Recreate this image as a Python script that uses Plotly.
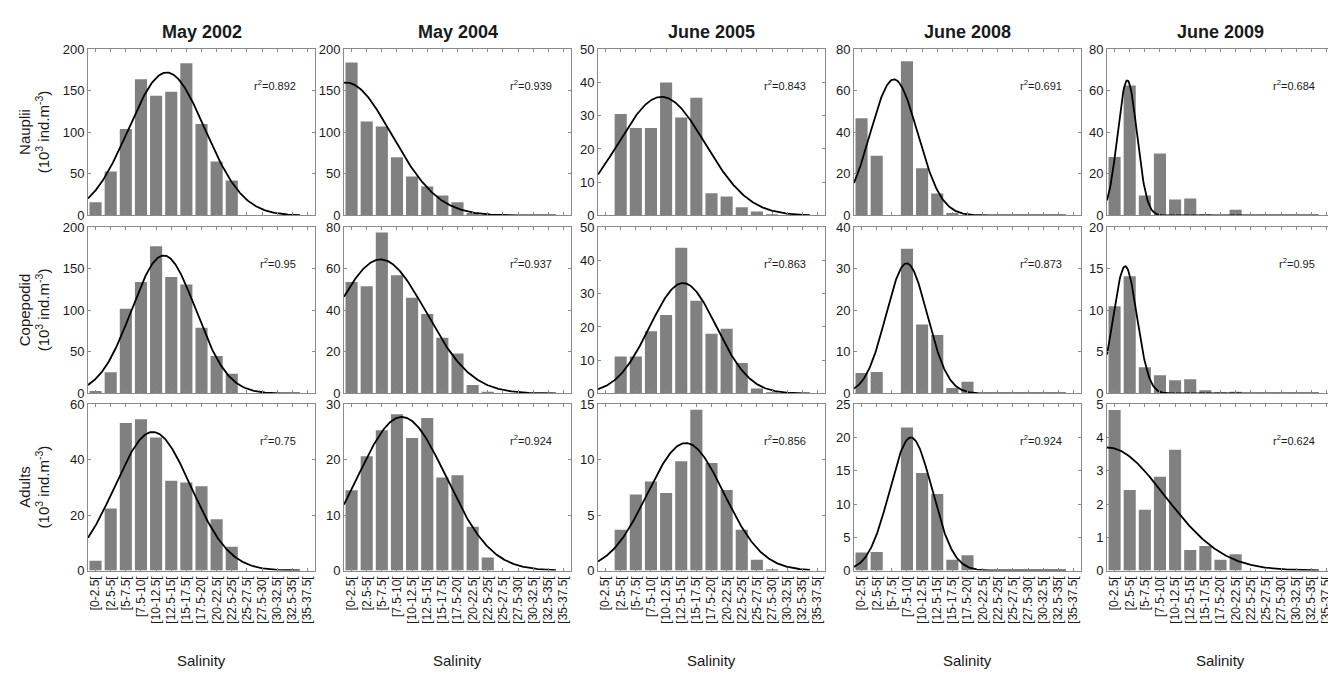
import numpy as np
import plotly.graph_objects as go

# ---------------- data ----------------
categories = ["[0-2.5[", "[2.5-5[", "[5-7.5[", "[7.5-10[", "[10-12.5[", "[12.5-15[",
              "[15-17.5[", "[17.5-20[", "[20-22.5[", "[22.5-25[", "[25-27.5[",
              "[27.5-30[", "[30-32.5[", "[32.5-35[", "[35-37.5["]
surveys = ["May 2002", "May 2004", "June 2005", "June 2008", "June 2009"]
stages = ["Nauplii", "Copepodid", "Adults"]

nauplii = [
    [16, 53, 104, 164, 144, 149, 183, 110, 65, 42, 0, 0, 0, 0, 0],
    [184, 113, 107, 70, 47, 35, 24, 16, 3, 0, 0, 0, 0, 0, 0],
    [0, 30.5, 26.3, 26.3, 40, 29.5, 35.4, 6.7, 5.7, 2.5, 1.2, 0.2, 0, 0, 0],
    [46.8, 28.7, 0, 74.2, 22.7, 10.6, 1.2, 0, 0, 0, 0, 0, 0, 0, 0],
    [28.2, 62.5, 9.6, 29.8, 7.7, 8.2, 0.3, 0, 2.8, 0, 0, 0, 0, 0, 0],
]
copepodid = [
    [3, 25.6, 102, 134, 177, 140, 131, 79, 45, 23.6, 0, 0, 0, 0, 0],
    [53.7, 51.6, 77.5, 56.9, 46.1, 38.3, 26.8, 19.2, 4.1, 0.8, 0, 0, 0, 0, 0],
    [0, 11.1, 11.1, 18.7, 23.6, 43.8, 27.9, 18.0, 19.5, 9.2, 1.5, 0.2, 0, 0, 0],
    [4.9, 5.2, 0, 34.8, 16.6, 14.1, 1.3, 2.8, 0, 0, 0, 0, 0, 0, 0],
    [10.5, 14.1, 3.15, 2.2, 1.6, 1.7, 0.4, 0.1, 0.2, 0, 0, 0, 0, 0, 0],
]
adults = [
    [3.5, 22.4, 53.2, 54.6, 48, 32.4, 31.8, 30.4, 18.5, 8.6, 0, 0, 0, 0, 0],
    [14.5, 20.6, 25.3, 28.2, 23.9, 27.5, 16.8, 17.2, 7.9, 2.35, 0, 0, 0, 0, 0],
    [0, 3.68, 6.85, 8.03, 7.0, 9.85, 14.5, 9.7, 7.26, 3.68, 0.97, 0.1, 0, 0, 0],
    [2.7, 2.8, 0, 21.5, 14.65, 11.5, 1.6, 2.3, 0, 0, 0, 0, 0, 0, 0],
    [4.83, 2.42, 1.83, 2.82, 3.63, 0.62, 0.74, 0.32, 0.49, 0, 0, 0, 0, 0, 0],
]

# Gaussian fit parameters (amplitude, mean salinity, sd)
nauplii_fit = [(172, 13.0, 6.3), (160, 0.3, 7.6), (35.7, 10.5, 7.2), (65.5, 6.6, 3.9), (65, 3.35, 1.6)]
copepodid_fit = [(166, 12.5, 5.3), (64.5, 6.05, 7.5), (33.2, 14.05, 5.5), (31.3, 8.7, 3.4), (15.3, 3.0, 1.95)]
adults_fit = [(50, 10.7, 6.3), (27.7, 9.55, 7.35), (11.5, 14.5, 6.3), (20, 9.4, 3.5), (3.7, 0.0, 9.56)]

nauplii_r2 = ["0.892", "0.939", "0.843", "0.691", "0.684"]
copepodid_r2 = ["0.95", "0.937", "0.863", "0.873", "0.95"]
adults_r2 = ["0.75", "0.924", "0.856", "0.924", "0.624"]

nauplii_ymax = [200, 200, 50, 80, 80]
nauplii_dtick = [50, 50, 10, 20, 20]
copepodid_ymax = [200, 80, 50, 40, 20]
copepodid_dtick = [50, 20, 10, 10, 5]
adults_ymax = [60, 30, 15, 25, 5]
adults_dtick = [20, 10, 5, 5, 1]

values = [nauplii, copepodid, adults]
fits = [nauplii_fit, copepodid_fit, adults_fit]
r2s = [nauplii_r2, copepodid_r2, adults_r2]
ymaxs = [nauplii_ymax, copepodid_ymax, adults_ymax]
dticks = [nauplii_dtick, copepodid_dtick, adults_dtick]

# ---------------- layout geometry (pixels) ----------------
W, H = 1336, 682
col_left = [80, 336, 590, 846, 1099]
col_w = 227
row_top = [35, 217, 398]
row_h = 170

FONT = "Liberation Sans, Arial, Helvetica, sans-serif"
AXC = "#8a8a8a"

fig = go.Figure()
layout = dict(
    width=W, height=H, margin=dict(l=0, r=0, t=0, b=0),
    paper_bgcolor="white", plot_bgcolor="white", showlegend=False,
    font=dict(family=FONT, color="#1a1a1a"), bargap=0.2,
)
annotations = []
xpos = np.arange(1, len(categories) + 1)
sal = np.linspace(0, 35, 300)

for r in range(3):
    for c in range(5):
        k = r * 5 + c + 1
        xa = "x" if k == 1 else f"x{k}"
        ya = "y" if k == 1 else f"y{k}"
        fig.add_trace(go.Bar(x=xpos, y=values[r][c], width=0.8,
                             marker=dict(color="#808080", line=dict(width=0)),
                             xaxis=xa, yaxis=ya, hoverinfo="skip"))
        A, mu, sd = fits[r][c]
        curve = A * np.exp(-((sal - mu) ** 2) / (2 * sd ** 2))
        fig.add_trace(go.Scatter(x=sal / 2.5 + 0.5, y=curve, mode="lines",
                                 line=dict(color="black", width=1.8),
                                 xaxis=xa, yaxis=ya, hoverinfo="skip"))
        x0 = col_left[c] / W
        x1 = (col_left[c] + col_w) / W
        y1 = 1 - row_top[r] / H
        y0 = 1 - (row_top[r] + row_h) / H
        xkey = "xaxis" if k == 1 else f"xaxis{k}"
        ykey = "yaxis" if k == 1 else f"yaxis{k}"
        layout[xkey] = dict(
            domain=[x0, x1], anchor=ya, range=[0.5, 15.5],
            tickmode="array", tickvals=list(xpos),
            ticktext=categories if r == 2 else [""] * len(categories),
            showticklabels=(r == 2), tickangle=-90,
            tickfont=dict(size=12, family=FONT, color="#1a1a1a"),
            ticks="inside", ticklen=3, tickcolor=AXC, showline=True,
            linecolor=AXC, linewidth=1, mirror="ticks", showgrid=False, zeroline=False,
        )
        layout[ykey] = dict(
            domain=[y0, y1], anchor=xa, range=[0, ymaxs[r][c]],
            tickmode="linear", tick0=0, dtick=dticks[r][c],
            tickfont=dict(size=13, family=FONT, color="#1a1a1a"),
            ticks="inside", ticklen=3, tickcolor=AXC, showline=True,
            linecolor=AXC, linewidth=1, mirror="ticks", showgrid=False, zeroline=False,
        )
        annotations.append(dict(
            xref=f"{xa} domain", yref=f"{ya} domain", x=0.925, y=1 - 37 / row_h,
            xanchor="right", yanchor="middle", showarrow=False,
            text=f"r<sup>2</sup>={r2s[r][c]}", font=dict(size=11, family=FONT, color="#1a1a1a"),
        ))

for c, s in enumerate(surveys):
    annotations.append(dict(
        xref="paper", yref="paper", x=(col_left[c] + col_w / 2) / W, y=1 - 17 / H,
        xanchor="center", yanchor="middle", showarrow=False,
        text=f"<b>{s}</b>", font=dict(size=18, family=FONT, color="#1a1a1a"),
    ))
    annotations.append(dict(
        xref="paper", yref="paper", x=(col_left[c] + col_w / 2) / W, y=1 - 660 / H,
        xanchor="center", yanchor="middle", showarrow=False,
        text="Salinity", font=dict(size=15, family=FONT, color="#1a1a1a"),
    ))

for r, s in enumerate(stages):
    annotations.append(dict(
        xref="paper", yref="paper", x=26 / W, y=1 - (row_top[r] + row_h / 2) / H,
        xanchor="center", yanchor="middle", showarrow=False, textangle=-90,
        text=f"{s}<br>(10<sup>3</sup> ind.m<sup>-3</sup>)",
        font=dict(size=15, family=FONT, color="#1a1a1a"),
    ))

layout["annotations"] = annotations
fig.update_layout(**layout)
fig.write_html("out.html")
